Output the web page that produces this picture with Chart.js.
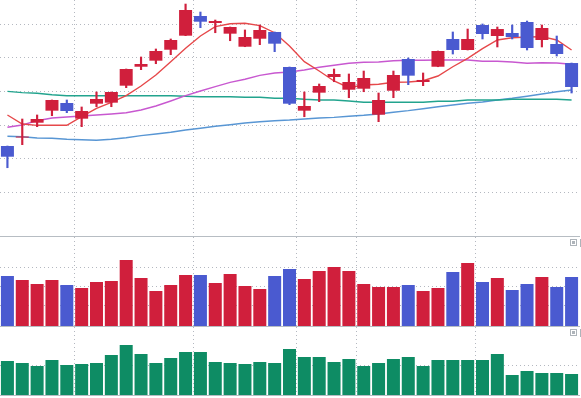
<!DOCTYPE html>
<html lang="fr">
<head>
<meta charset="utf-8">
<title>Bougies</title>
<script src="https://cdn.jsdelivr.net/npm/chart.js@4.4.1/dist/chart.umd.min.js"></script>
<style>
  html, body { margin: 0; padding: 0; background: #ffffff; }
  #zone { position: relative; width: 581px; height: 398px; overflow: hidden; }
  #zone canvas { position: absolute; left: 0; }
  .sep { position: absolute; left: 0; width: 580px; height: 1px; background: #b7bdc3; }
  .ico { position: absolute; left: 570px; width: 5px; height: 5px; border: 1px solid #aeb4ba; }
  .ico::after { content: ""; position: absolute; left: 1px; top: 1px; width: 3px; height: 3px; background: #aeb4ba; }
  .bord { position: absolute; left: 580px; width: 1px; height: 8px; background: #aeb4ba; }
</style>
</head>
<body>
<div id="zone">
  <canvas id="graphPrix" width="581" height="236" style="top:0"></canvas>
  <canvas id="graphVolume" width="581" height="89" style="top:237px"></canvas>
  <canvas id="graphIndic" width="581" height="68" style="top:327px"></canvas>
  <div class="sep" style="top:236px"></div>
  <div class="sep" style="top:326px"></div>
  <div class="sep" style="top:395px"></div>
  <div class="ico" style="top:239px"></div>
  <div class="bord" style="top:239px"></div>
  <div class="ico" style="top:329px"></div>
  <div class="bord" style="top:329px"></div>
</div>
<script>
// Données (39 séances)
const A_labels = Array.from({ length: 39 }, (_, I_i) => String(I_i + 1));

const A_open = [41.89, 43.15, 45.36, 47.15, 48.29, 45.96, 48.19, 48.34, 50.87, 53.69, 54.59, 56.22, 58.31,
  61.24, 60.20, 58.61, 56.67, 57.86, 58.86, 53.65, 47.15, 49.83, 52.16, 50.27, 50.42, 46.55,
  50.12, 54.84, 51.42, 53.69, 57.82, 56.18, 59.90, 58.26, 58.71, 60.35, 57.67, 57.07, 54.24];
const A_high = [41.89, 45.91, 46.51, 48.74, 48.74, 47.70, 49.93, 49.93, 53.35, 55.14, 56.33, 57.82, 63.02,
  61.83, 60.64, 59.60, 59.16, 59.90, 58.86, 53.65, 49.93, 51.12, 53.35, 52.61, 53.05, 49.78,
  53.05, 54.99, 52.76, 56.03, 58.86, 59.30, 60.05, 59.60, 59.90, 60.49, 59.90, 58.26, 54.24];
const A_low = [38.66, 42.09, 44.77, 46.40, 46.85, 44.77, 47.74, 47.74, 50.57, 53.25, 54.14, 55.48, 58.31,
  59.50, 58.75, 57.56, 56.67, 56.97, 55.93, 48.04, 46.25, 48.49, 51.46, 49.08, 49.97, 45.51,
  49.08, 51.02, 50.87, 53.69, 55.58, 56.18, 57.82, 56.63, 57.82, 56.18, 56.63, 55.29, 49.78];
const A_close = [40.30, 43.30, 45.91, 48.74, 47.10, 47.10, 48.89, 49.93, 53.35, 54.10, 56.03, 57.67, 62.13,
  60.39, 60.49, 59.60, 58.11, 59.16, 57.12, 48.19, 47.85, 50.82, 52.61, 51.42, 52.01, 48.74,
  52.46, 52.36, 51.72, 56.03, 56.18, 57.82, 58.56, 59.30, 58.11, 56.48, 59.45, 55.58, 50.67];

// Moyennes mobiles
const A_mm5 = [46.51, 45.17, 44.97, 44.97, 44.97, 46.25, 47.50, 48.40, 49.38, 50.82, 52.46, 54.44, 56.43,
  58.26, 59.65, 60.09, 60.15, 59.80, 58.75, 56.77, 54.44, 53.05, 51.57, 50.57, 50.97, 51.08,
  51.37, 51.42, 51.61, 52.31, 53.69, 54.94, 56.37, 57.67, 58.01, 58.11, 58.16, 57.67, 56.18];
const A_mm20 = [44.68, 45.02, 45.66, 46.06, 46.21, 46.36, 46.51, 46.66, 46.85, 47.25, 47.85, 48.59, 49.38,
  50.08, 50.72, 51.37, 51.82, 52.41, 52.76, 52.91, 53.20, 53.61, 53.90, 54.20, 54.35, 54.39,
  54.59, 54.65, 54.65, 54.69, 54.69, 54.69, 54.50, 54.50, 54.39, 54.20, 54.29, 54.24, 54.05];
const A_mm60 = [50.03, 49.83, 49.74, 49.53, 49.38, 49.38, 49.38, 49.38, 49.38, 49.38, 49.38, 49.38, 49.29,
  49.23, 49.23, 49.23, 49.14, 49.14, 48.99, 48.99, 48.84, 48.74, 48.74, 48.59, 48.40, 48.40,
  48.40, 48.40, 48.40, 48.55, 48.55, 48.74, 48.74, 48.74, 48.84, 48.84, 48.84, 48.84, 48.74];
const A_mm120 = [43.34, 43.28, 43.08, 43.04, 42.89, 42.83, 42.74, 42.89, 43.13, 43.43, 43.68, 43.93, 44.27,
  44.53, 44.83, 45.06, 45.32, 45.51, 45.66, 45.76, 45.91, 46.06, 46.16, 46.31, 46.46, 46.66,
  46.91, 47.15, 47.44, 47.74, 47.99, 48.25, 48.44, 48.74, 48.99, 49.29, 49.63, 49.97, 50.23];

const A_volume = [5000, 4600, 4200, 4600, 4100, 3800, 4400, 4500, 6600, 4800, 3500, 4100, 5100,
  5100, 4300, 5200, 4000, 3700, 5000, 5700, 4700, 5500, 5900, 5500, 4200, 3900,
  3900, 4100, 3500, 3800, 5400, 6300, 4400, 4800, 3600, 4200, 4900, 3900, 4900];
const A_indicateur = [34, 32, 29, 35, 30, 31, 32, 40, 50, 41, 32, 37, 43,
  43, 33, 32, 31, 33, 32, 46, 38, 38, 33, 36, 29, 32,
  36, 38, 29, 35, 35, 35, 35, 41, 20, 24, 22, 22, 21];

// Repères de grille
const A_prixTicks = [35, 40, 45, 50, 55, 60];
const A_volumeTicks = [2100, 3950, 5800];
const A_indicTicks = [30];
const A_separations = [0, 5, 13, 20, 24, 32];

const C_ROUGE = "#d01f3c";
const C_BLEU = "#4a5ad0";
const C_VERT = "#0e8c64";
const C_GRILLE = "#b4b8c0";

const A_couleurs = A_open.map((N_o, I_i) => (A_close[I_i] >= N_o ? C_ROUGE : C_BLEU));

/**
 * Axe des abscisses commun aux trois panneaux.
 * @return {Object} options de l'axe
 */
function F_axeX() {
  return {
    type: "category",
    offset: true,
    ticks: { display: false, autoSkip: false },
    border: { display: false, dash: [1, 3] },
    grid: {
      offset: true,
      drawTicks: false,
      color: (O_ctx) => (A_separations.includes(O_ctx.index) ? C_GRILLE : "rgba(0,0,0,0)"),
    },
  };
}

/**
 * Axe des ordonnées sans étiquettes, grille pointillée.
 */
function F_axeY(N_min, N_max, A_ticks) {
  return {
    min: N_min,
    max: N_max,
    ticks: { display: false },
    border: { display: false, dash: [1, 3] },
    grid: { drawTicks: false, color: C_GRILLE },
    afterBuildTicks: (O_scale) => {
      O_scale.ticks = A_ticks.map((N_v) => ({ value: N_v }));
    },
  };
}

function F_options(O_y) {
  return {
    responsive: false,
    animation: false,
    events: [],
    layout: { padding: { left: 0, right: 2, top: 0, bottom: 0 } },
    plugins: { legend: { display: false }, tooltip: { enabled: false } },
    scales: { x: F_axeX(), y: O_y },
  };
}

function F_ligne(A_data, S_couleur) {
  return {
    type: "line",
    data: A_data,
    borderColor: S_couleur,
    borderWidth: 1.4,
    pointRadius: 0,
    tension: 0,
    fill: false,
    order: 3,
  };
}

// Graphique des cours
new Chart(document.getElementById("graphPrix").getContext("2d"), {
  type: "bar",
  data: {
    labels: A_labels,
    datasets: [
      {
        data: A_low.map((N_l, I_i) => [N_l, A_high[I_i]]),
        backgroundColor: A_couleurs,
        barThickness: 1.5,
        grouped: false,
        order: 2,
      },
      {
        data: A_open.map((N_o, I_i) => [N_o, A_close[I_i]]),
        backgroundColor: A_couleurs,
        barPercentage: 0.876,
        categoryPercentage: 1,
        grouped: false,
        order: 1,
      },
      F_ligne(A_mm5, "#e6484a"),
      F_ligne(A_mm20, "#c858d0"),
      F_ligne(A_mm60, "#22a48e"),
      F_ligne(A_mm120, "#5896d4"),
    ],
  },
  options: F_options(F_axeY(28.5, 63.62, A_prixTicks)),
});

// Volumes
new Chart(document.getElementById("graphVolume").getContext("2d"), {
  type: "bar",
  data: {
    labels: A_labels,
    datasets: [
      {
        data: A_volume,
        backgroundColor: A_couleurs,
        barPercentage: 0.876,
        categoryPercentage: 1,
      },
    ],
  },
  options: F_options(F_axeY(0, 8900, A_volumeTicks)),
});

// Indicateur (vert)
new Chart(document.getElementById("graphIndic").getContext("2d"), {
  type: "bar",
  data: {
    labels: A_labels,
    datasets: [
      {
        data: A_indicateur,
        backgroundColor: C_VERT,
        barPercentage: 0.876,
        categoryPercentage: 1,
      },
    ],
  },
  options: F_options(F_axeY(0, 68, A_indicTicks)),
});
</script>
</body>
</html>
